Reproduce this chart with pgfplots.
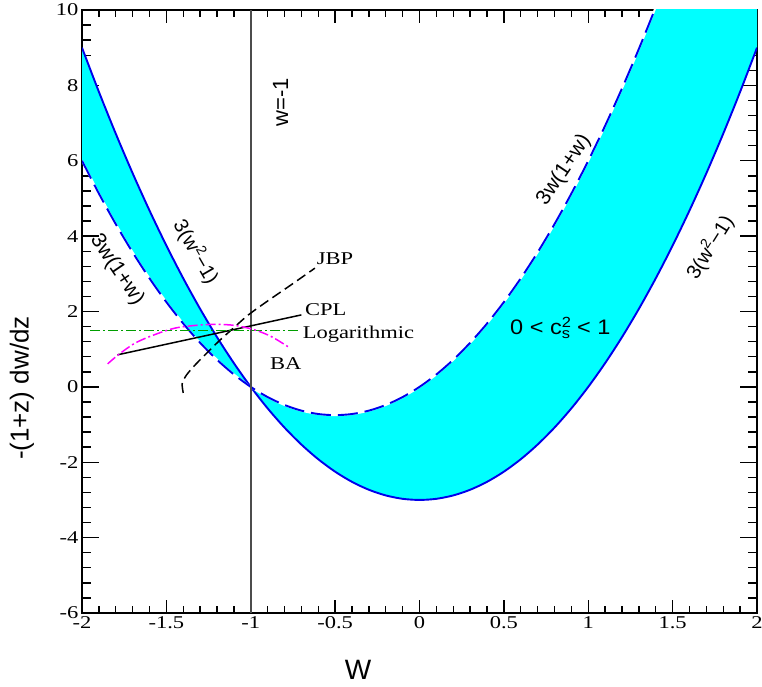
\documentclass[border=0pt]{standalone}
\usepackage{graphicx}
\usepackage{fontspec}
\setmainfont{Liberation Serif}
\setsansfont{Liberation Sans}
\usepackage{pgfplots}
\pgfplotsset{compat=1.18}
\usepackage{pgfplotstable}
\usepgfplotslibrary{fillbetween}

\definecolor{bandfill}{rgb}{0,1,1}
\definecolor{curveblue}{rgb}{0,0,0.92}
\definecolor{loggreen}{rgb}{0,0.62,0}
\definecolor{bamag}{rgb}{1,0,1}

\newcommand{\sx}[1]{\scalebox{1.25}[1]{#1}}
\newcommand{\fs}[1]{\fontsize{#1}{#1}\selectfont}

% w, 3w(1+w), 3(w^2-1)
\pgfplotstableread{
w     a      b
-2.0  6.00   9.00
-1.9  5.13   7.83
-1.8  4.32   6.72
-1.7  3.57   5.67
-1.6  2.88   4.68
-1.5  2.25   3.75
-1.4  1.68   2.88
-1.3  1.17   2.07
-1.2  0.72   1.32
-1.1  0.33   0.63
-1.0  0.00   0.00
-0.9 -0.27  -0.57
-0.8 -0.48  -1.08
-0.7 -0.63  -1.53
-0.6 -0.72  -1.92
-0.5 -0.75  -2.25
-0.4 -0.72  -2.52
-0.3 -0.63  -2.73
-0.2 -0.48  -2.88
-0.1 -0.27  -2.97
 0.0  0.00  -3.00
 0.1  0.33  -2.97
 0.2  0.72  -2.88
 0.3  1.17  -2.73
 0.4  1.68  -2.52
 0.5  2.25  -2.25
 0.6  2.88  -1.92
 0.7  3.57  -1.53
 0.8  4.32  -1.08
 0.9  5.13  -0.57
 1.0  6.00   0.00
 1.1  6.93   0.63
 1.2  7.92   1.32
 1.3  8.97   2.07
 1.4 10.08   2.88
 1.5 11.25   3.75
 1.6 12.48   4.68
 1.7 13.77   5.67
 1.8 15.12   6.72
 1.9 16.53   7.83
 2.0 18.00   9.00
}\bounds

\begin{document}
\begin{tikzpicture}
\begin{axis}[
    width=675pt, height=603pt,
    scale only axis,
    xmin=-2, xmax=2,
    ymin=-6, ymax=10,
    xtick={-2,-1.5,...,2},
    ytick={-6,-4,...,10},
    minor x tick num=4,
    minor y tick num=4,
    tick align=inside,
    every tick/.style={black, line width=1.4pt},
    xtick style={/pgfplots/major tick length=13pt, /pgfplots/minor tick length=7pt},
    ytick style={/pgfplots/major tick length=17pt, /pgfplots/minor tick length=9pt},
    axis line style={line width=2.2pt},
    xticklabel={\fs{18}\sx{\pgfmathprintnumber[assume math mode=true]{\tick}}},
    yticklabel={\fs{18}\sx{\pgfmathprintnumber[assume math mode=true]{\tick}}},
    xlabel={W},
    xlabel style={font=\sffamily\fs{28}, at={(axis description cs:0.409,-0.0945)}, anchor=center},
    ylabel={-(1+z) dw/dz},
    ylabel style={font=\sffamily\fs{26}, at={(axis description cs:-0.089,0.373)}, anchor=center},
]
\addplot[name path=A, draw=none] table[x=w, y=a] {\bounds};
\addplot[name path=B, draw=none] table[x=w, y=b] {\bounds};
\addplot[bandfill] fill between[of=A and B];

\addplot[curveblue, line width=1.9pt, smooth] table[x=w, y=b] {\bounds};
\addplot[white, line width=1.9pt, smooth] table[x=w, y=a] {\bounds};
\addplot[curveblue, line width=1.9pt, smooth, dash pattern=on 20pt off 7pt] table[x=w, y=a] {\bounds};

% w = -1
\addplot[black!70, line width=1.8pt] coordinates {(-1,-6) (-1,10)};

% JBP
\addplot[black, line width=1.5pt, smooth, dash pattern=on 10pt off 5pt] coordinates {
    (-1.400,-0.16) (-1.406,0.09) (-1.380,0.32) (-1.330,0.58) (-1.271,0.85)
    (-1.192,1.20) (-1.093,1.60) (-1.014,1.91) (-0.906,2.26) (-0.760,2.71) (-0.620,3.15)
};
% CPL
\addplot[black, line width=1.5pt] coordinates {(-1.79,0.85) (-0.70,1.91)};
% Logarithmic
\addplot[loggreen, line width=1.5pt, dash pattern=on 10pt off 3pt on 2pt off 3pt] coordinates {(-1.95,1.50) (-0.72,1.50)};
% BA
\addplot[bamag, line width=1.5pt, smooth, dash pattern=on 10pt off 3pt on 2pt off 3pt] coordinates {
    (-1.848,0.61) (-1.785,0.85) (-1.686,1.16) (-1.567,1.39) (-1.449,1.56) (-1.330,1.63)
    (-1.212,1.66) (-1.093,1.63) (-0.975,1.51) (-0.876,1.33) (-0.777,1.06)
};

\node[font=\fs{18}, anchor=base west, inner sep=0pt] at (axis cs:-0.609,3.234) {\sx{JBP}};
\node[font=\fs{18}, anchor=base west, inner sep=0pt] at (axis cs:-0.679,1.881) {\sx{CPL}};
\node[font=\fs{18}, anchor=base west, inner sep=0pt] at (axis cs:-0.693,1.271) {\sx{Logarithmic}};
\node[font=\fs{18}, anchor=base west, inner sep=0pt] at (axis cs:-0.886,0.467) {\sx{BA}};
\node[font=\sffamily\fs{21}, anchor=base west, inner sep=0pt] at (axis cs:0.536,1.377)
    {\scalebox{1.12}[1]{0 < c\rlap{\textsuperscript{2}}\textsubscript{s} < 1}};

\node[font=\sffamily\fs{20}, rotate=-60] at (axis cs:-1.324,3.58) {3(w\textsuperscript{2}−1)};
\node[font=\sffamily\fs{21}, rotate=-56] at (axis cs:-1.793,3.10) {3w(1+w)};
\node[font=\sffamily\fs{21}, rotate=56] at (axis cs:0.856,5.75) {3w(1+w)};
\node[font=\sffamily\fs{20}, rotate=58] at (axis cs:1.721,3.70) {3(w\textsuperscript{2}−1)};
\node[font=\sffamily\fs{22}, rotate=90] at (axis cs:-0.824,7.55) {w=-1};
\end{axis}
\pgfresetboundingbox
\path (-82pt,-73pt) rectangle (680pt,613pt);
\end{tikzpicture}
\end{document}
